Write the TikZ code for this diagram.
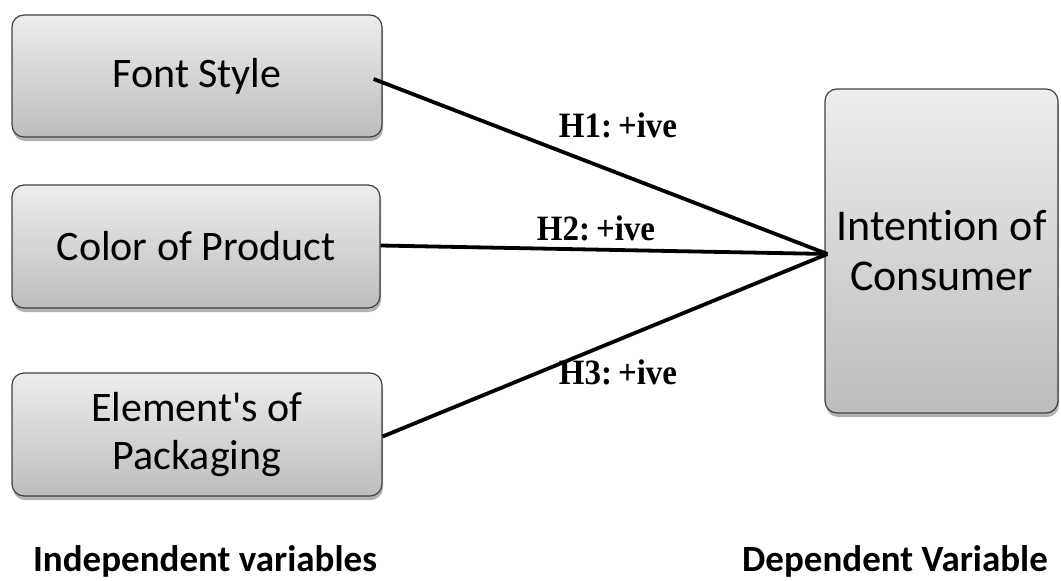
\documentclass[tikz,border=0pt]{standalone}
\usepackage{fontspec}
\usepackage{graphicx}
\setmainfont{Carlito}[Ligatures={TeXOff,NoCommon}]
\newfontfamily\hfont{Liberation Serif}
\usetikzlibrary{shadows}
\tikzset{
  varbox/.style={draw=black!75, line width=1.2pt, rounded corners=12pt,
    top color=black!7, bottom color=black!26,
    drop shadow={shadow xshift=1pt, shadow yshift=-4pt, opacity=0.3, fill=black},
    align=center, inner sep=0pt, font=\fontsize{42}{48}\selectfont},
  link/.style={line width=3.8pt, black},
  hyp/.style={font=\hfont\bfseries\fontsize{33}{38}\selectfont, inner sep=0pt},
  caption/.style={font=\bfseries\fontsize{37}{40}\selectfont, anchor=base, inner sep=0pt}
}
\newcommand{\hyptext}[2]{\scalebox{1}[1.08]{#1:\hspace{6pt}#2}}
\begin{document}
\begin{tikzpicture}[x=1pt,y=-1pt]
\useasboundingbox (0,0) rectangle (1061,581);
\node[varbox, minimum width=370pt, minimum height=122pt] (font) at (197,76) {Font Style};
\node[varbox, minimum width=368pt, minimum height=123pt] (color) at (196,246.5) {Color of Product};
\node[varbox, minimum width=370pt, minimum height=123pt] (elem) at (197,434.5) {Element's of\\Packaging};
\node[varbox, minimum width=233pt, minimum height=324pt, font=\fontsize{44}{50}\selectfont] (cons) at (941.5,251) {Intention of\\Consumer};
\coordinate (hub) at ([xshift=3pt,yshift=-3pt]cons.west);
\draw[link] ([xshift=-9pt,yshift=-3pt]font.east) -- (hub);
\draw[link] ([yshift=1pt]color.east) -- (hub);
\draw[link] ([yshift=-2pt]elem.east) -- (hub);
\node[hyp] (h1) at (618,125) {\hyptext{H1}{+ive}};
\node[hyp] (h2) at (596,228) {\hyptext{H2}{+ive}};
\node[hyp] (h3) at (618,372) {\hyptext{H3}{+ive}};
\node[caption] (indep) at (205,571) {Independent variables};
\node[caption] (dep) at (895,571) {Dependent Variable};
\end{tikzpicture}
\end{document}
